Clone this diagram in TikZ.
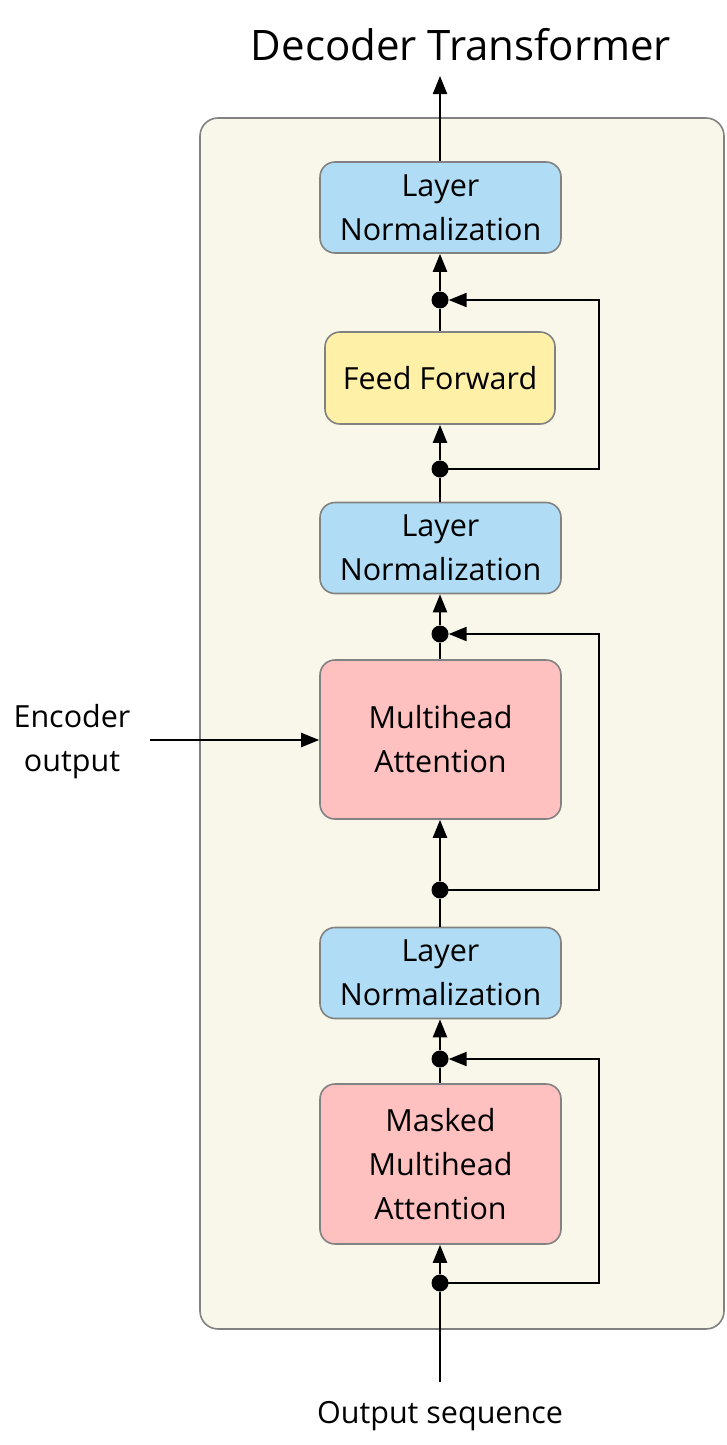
\documentclass[tikz,border=0pt]{standalone}
\usepackage{fontspec}
\setmainfont{Open Sans}
\usetikzlibrary{arrows.meta}
\definecolor{cream}{RGB}{249,247,233}
\definecolor{boxline}{RGB}{130,130,130}
\definecolor{lnblue}{RGB}{176,221,245}
\definecolor{ffyellow}{RGB}{255,240,168}
\definecolor{attpink}{RGB}{255,192,192}
\tikzset{
  block/.style={draw=boxline, line width=1.6pt, rounded corners=15pt, align=center,
    inner sep=0pt, font=\fontsize{30.5}{44}\selectfont},
  lnbox/.style={block, fill=lnblue, minimum width=241pt, minimum height=91pt},
  ffbox/.style={block, fill=ffyellow, minimum width=230pt, minimum height=92pt},
  attbox/.style={block, fill=attpink, minimum width=241pt, minimum height=159pt},
  jdot/.style={circle, fill=black, inner sep=0pt, minimum size=17pt},
  wire/.style={line width=2.2pt},
  conn/.style={wire, -{Triangle[length=18pt,width=14pt]}},
  lbl/.style={align=center, font=\fontsize{30.5}{44}\selectfont},
}
\begin{document}
\begin{tikzpicture}[x=1pt,y=-1pt]
\useasboundingbox (0,0) rectangle (727,1445);
\node[draw=boxline, fill=cream, line width=1.6pt, rounded corners=18pt,
  minimum width=524pt, minimum height=1211pt, inner sep=0pt] (frame) at (462,723.5) {};

\node[lbl, font=\fontsize{42}{50}\selectfont] (title) at (461,45) {Decoder Transformer};

\node[lnbox] (ln1) at (440.5,207.5) {Layer\\Normalization};
\node[ffbox] (ff) at (440,378) {Feed Forward};
\node[lnbox] (ln2) at (440.5,548) {Layer\\Normalization};
\node[attbox] (mha) at (440.5,739.5) {Multihead\\Attention};
\node[lnbox] (ln3) at (440.5,973) {Layer\\Normalization};
\node[attbox, minimum height=160pt] (mmha) at (440.5,1164) {Masked\\Multihead\\Attention};

\node[jdot] (d1) at (440,300) {};
\node[jdot] (d2) at (440,469) {};
\node[jdot] (d3) at (440,634) {};
\node[jdot] (d4) at (440,890) {};
\node[jdot] (d5) at (440,1059) {};
\node[jdot] (d6) at (440,1283) {};

\node[lbl] (enc) at (72,742) {Encoder\\output};
\node[lbl] (outseq) at (440,1416) {Output sequence};

\coordinate (topend) at (440,76);
\coordinate (encstart) at (150,740);
\coordinate (inpstart) at (440,1382);

% top output
\draw[conn] (ln1.north -| topend) -- (topend);
% feed forward block
\draw[conn] (d1) -- (ln1.south -| d1);
\draw[wire] (ff.north -| d1) -- (d1);
\draw[conn] (d2) -- (ff.south -| d2);
\draw[conn] (d2.center) -- ++(159,0) |- (d1);
% multihead attention block
\draw[wire] (ln2.north -| d2) -- (d2);
\draw[conn] (d3) -- (ln2.south -| d3);
\draw[wire] (mha.north -| d3) -- (d3);
\draw[conn] (d4) -- (mha.south -| d4);
\draw[conn] (d4.center) -- ++(159,0) |- (d3);
\draw[conn] (encstart) -- (encstart -| mha.west);
% masked block
\draw[wire] (ln3.north -| d4) -- (d4);
\draw[conn] (d5) -- (ln3.south -| d5);
\draw[wire] (mmha.north -| d5) -- (d5);
\draw[conn] (d6) -- (mmha.south -| d6);
\draw[conn] (d6.center) -- ++(159,0) |- (d5);
\draw[wire] (inpstart) -- (d6);
\end{tikzpicture}
\end{document}
